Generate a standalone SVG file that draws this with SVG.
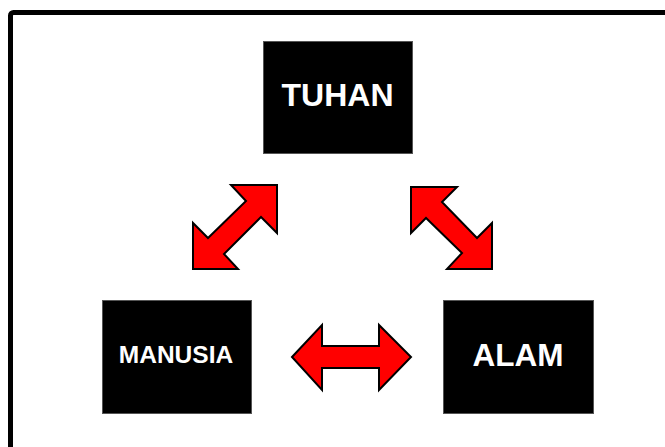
<svg xmlns="http://www.w3.org/2000/svg" width="665" height="447" viewBox="0 0 665 447">
  <style>
    .box { fill: #000; stroke: #555; stroke-width: 1; }
    .lbl { fill: #fff; font-family: "Liberation Sans", Arial, sans-serif; font-weight: bold; text-anchor: middle; }
    .arr { fill: #ff0000; stroke: #000; stroke-width: 2; stroke-linejoin: miter; }
  </style>
  <rect width="665" height="447" fill="#fff"/>
  <rect x="10.5" y="12.5" width="700" height="500" rx="3" fill="none" stroke="#000" stroke-width="5"/>
  <g id="connectors">
    <polygon class="arr" points="277,185 277,233 261,217 224,254 238,269 193,269 193,223 208,238 246,201 231,185"/>
    <polygon class="arr" points="411,187 457,187 442,202 477,238 492,223 492,269 447,269 462,253 426,218 411,233"/>
    <polygon class="arr" points="292,357 322,325 322,346 379,346 379,325 411,357 379,390 379,368 322,368 322,390"/>
  </g>
  <g id="tuhan">
    <rect class="box" x="263.5" y="41.5" width="149" height="112"/>
    <text class="lbl" x="337.5" y="106" font-size="32">TUHAN</text>
  </g>
  <g id="manusia">
    <rect class="box" x="102.5" y="300.5" width="149" height="113"/>
    <text class="lbl" x="176" y="363" font-size="24.5">MANUSIA</text>
  </g>
  <g id="alam">
    <rect class="box" x="443.5" y="300.5" width="150" height="113"/>
    <text class="lbl" x="518" y="366" font-size="31.5">ALAM</text>
  </g>
</svg>
